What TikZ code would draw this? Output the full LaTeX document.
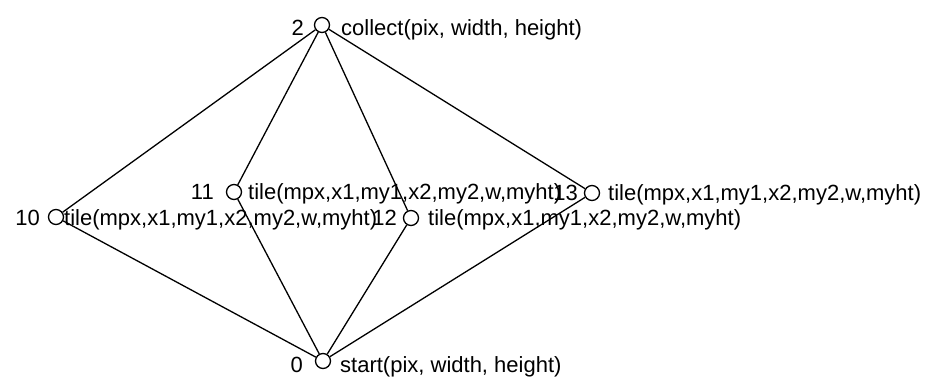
\documentclass[tikz,border=0pt]{standalone}
\usepackage{fontspec}
\setmainfont{Liberation Sans}
\begin{document}
\begin{tikzpicture}[x=1pt,y=-1pt,
  vtx/.style={circle,draw,line width=1.3pt,minimum size=15pt,inner sep=0pt},
  num/.style={anchor=base east,inner sep=0pt,font=\fontsize{22}{26}\selectfont},
  txt/.style={anchor=base west,inner sep=0pt,font=\fontsize{22}{26}\selectfont},
  edge/.style={line width=1.3pt}]
\useasboundingbox[fill=white] (0,0) rectangle (926,378);
% vertices
\node[vtx] (n2)  at (322,25)  {};
\node[vtx] (n11) at (234,192) {};
\node[vtx] (n13) at (592,193) {};
\node[vtx] (n10) at (56,217)  {};
\node[vtx] (n12) at (411,218) {};
\node[vtx] (n0)  at (323,361) {};
% labels
\node[num] (l2)  at (304,35)  {2};
\node[txt] (t2)  at (341,35)  {collect(pix, width, height)};
\node[num] (l11) at (214,199) {11};
\node[txt] (t11) at (248,199) {tile(mpx,x1,my1,x2,my2,w,myht)};
\node[num] (l13) at (578,200) {13};
\node[txt] (t13) at (608,200) {tile(mpx,x1,my1,x2,my2,w,myht)};
\node[num] (l10) at (40,225)  {10};
\node[txt] (t10) at (64,225)  {tile(mpx,x1,my1,x2,my2,w,myht)};
\node[num] (l12) at (397,225) {12};
\node[txt] (t12) at (428,225) {tile(mpx,x1,my1,x2,my2,w,myht)};
\node[num] (l0)  at (303,372) {0};
\node[txt] (t0)  at (340,372) {start(pix, width, height)};
% edges
\foreach \m in {n10,n11,n12,n13}{
  \draw[edge] (n0) -- (\m);
  \draw[edge] (\m) -- (n2);
}
\end{tikzpicture}
\end{document}
